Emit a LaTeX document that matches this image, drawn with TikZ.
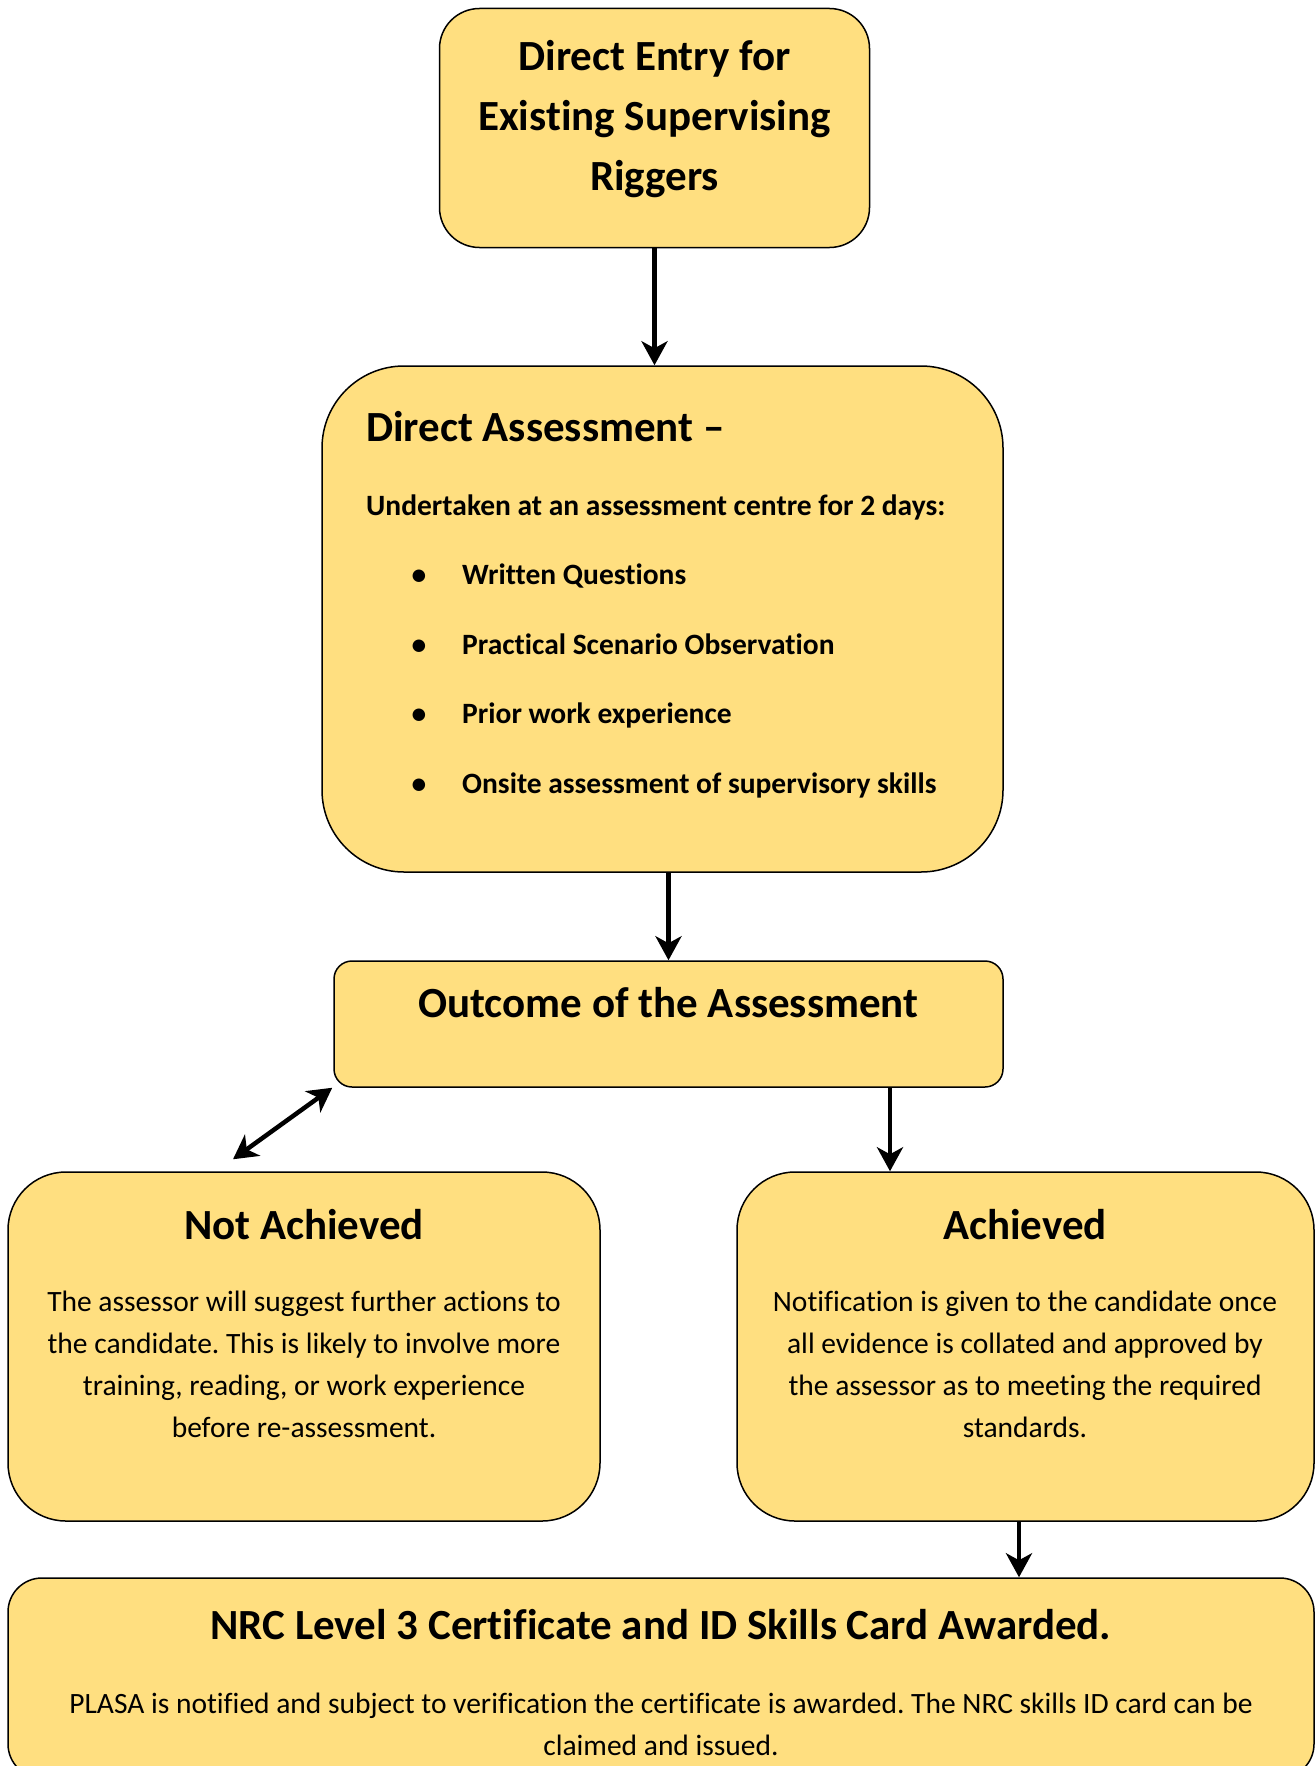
\documentclass[tikz,border=0pt]{standalone}
\usepackage{fontspec}
\setmainfont{Carlito}[Ligatures=NoCommon]
\usetikzlibrary{arrows.meta,calc}
\frenchspacing
\definecolor{boxfill}{HTML}{FFDF80}
\newcommand{\tfont}{\fontsize{43}{60}\selectfont\bfseries}
\newcommand{\bbfont}{\fontsize{29.5}{41.7}\selectfont\bfseries}
\newcommand{\bfont}{\fontsize{29.5}{41.7}\selectfont}
\begin{document}
\begin{tikzpicture}[x=1pt,y=-1pt,
  box/.style={draw=black, line width=1.5pt, fill=boxfill, inner sep=0pt},
  txt/.style={inner sep=0pt, text=black},
  arr/.style={line width=4.5pt, -{Stealth[length=24pt,width=26pt,inset=7pt]}},
  darr/.style={line width=4.5pt, {Stealth[length=24pt,width=26pt,inset=7pt]}-{Stealth[length=24pt,width=26pt,inset=7pt]}}]
\useasboundingbox (0,0) rectangle (1315,1766);
\clip (0,0) rectangle (1315,1766);
\fill[white] (0,0) rectangle (1315,1766);

% boxes
\node[box, rounded corners=40pt, minimum width=430pt, minimum height=239pt] (entry) at (654.5,128) {};
\node[box, rounded corners=82pt, minimum width=681pt, minimum height=506pt] (assess) at (662.5,619) {};
\node[box, rounded corners=18pt, minimum width=669pt, minimum height=126pt] (outcome) at (668.5,1024) {};
\node[box, rounded corners=58pt, minimum width=592pt, minimum height=349pt] (notach) at (304,1346.5) {};
\node[box, rounded corners=58pt, minimum width=577pt, minimum height=349pt] (ach) at (1025.5,1346.5) {};
\node[box, rounded corners=34pt, minimum width=1306pt, minimum height=200pt] (award) at (661,1678) {};

% texts (base anchor of a multi-line node = baseline of its last line)
\node[txt, font=\tfont, align=center, anchor=base] (entryT) at (654.5,190.5) {Direct Entry for\\Existing Supervising\\Riggers};

\node[txt, font=\tfont, anchor=base west] (assT) at (366,441) {Direct Assessment –};
\node[txt, font=\bbfont, anchor=base west] (assU) at (366,515) {Undertaken at an assessment centre for 2 days:};
\node[txt, font=\bbfont, anchor=base] (b1) at (419,584) {•};
\node[txt, font=\bbfont, anchor=base] (b2) at (419,654) {•};
\node[txt, font=\bbfont, anchor=base] (b3) at (419,723) {•};
\node[txt, font=\bbfont, anchor=base] (b4) at (419,793) {•};
\node[txt, font=\bbfont, anchor=base west] (i1) at (462,584) {Written Questions};
\node[txt, font=\bbfont, anchor=base west] (i2) at (462,654) {Practical Scenario Observation};
\node[txt, font=\bbfont, anchor=base west] (i3) at (462,723) {Prior work experience};
\node[txt, font=\bbfont, anchor=base west] (i4) at (462,793) {Onsite assessment of supervisory skills};

\node[txt, font=\tfont, anchor=base] (outT) at (668.5,1017) {Outcome of the Assessment};

\node[txt, font=\tfont, anchor=base] (notT) at (304,1239) {Not Achieved};
\node[txt, font=\bfont, align=center, anchor=base] (notB) at (304,1437) {The assessor will suggest further actions to\\the candidate. This is likely to involve more\\training, reading, or work experience\\before re-assessment.};

\node[txt, font=\tfont, anchor=base] (achT) at (1025,1239) {Achieved};
\node[txt, font=\bfont, align=center, anchor=base] (achB) at (1025,1437) {Notification is given to the candidate once\\all evidence is collated and approved by\\the assessor as to meeting the required\\standards.};

\node[txt, font=\tfont, anchor=base] (awT) at (661,1639) {NRC Level 3 Certificate and ID Skills Card Awarded.};
\node[txt, font=\bfont, align=center, anchor=base] (awB) at (661,1755) {PLASA is notified and subject to verification the certificate is awarded. The NRC skills ID card can be\\claimed and issued.};

% connectors
\draw[arr] (entry.south) -- (entry.south |- assess.north);
\draw[arr] (assess.south -| outcome.north) -- (outcome.north);
\coordinate (o3) at ([xshift=221.5pt]outcome.south);
\draw[arr] (o3) -- (o3 |- ach.north);
\coordinate (a4) at ([xshift=-6.5pt]ach.south);
\draw[arr] (a4) -- (a4 |- award.north);
\coordinate (d1) at ([xshift=-71pt,yshift=12pt]notach.north);
\coordinate (d2) at ([xshift=-1pt]outcome.south west);
\draw[darr] (d1) -- (d2);
\end{tikzpicture}
\end{document}
